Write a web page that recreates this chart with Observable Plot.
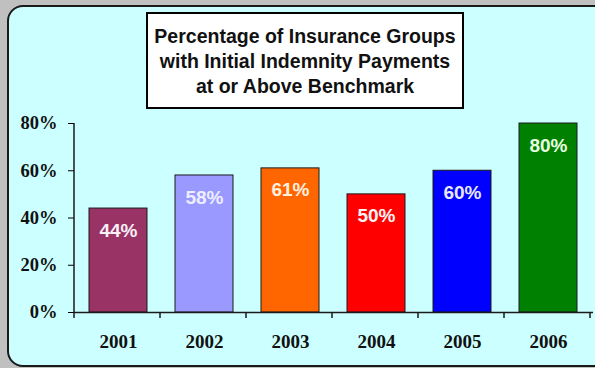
<!DOCTYPE html>
<html>
<head>
<meta charset="utf-8">
<script src="https://cdn.jsdelivr.net/npm/d3@7"></script>
<script src="https://cdn.jsdelivr.net/npm/@observablehq/plot@0.6"></script>
<style>
  html, body { margin: 0; padding: 0; background: #c0c0c0; }
  #wrap { position: relative; width: 595px; height: 368px; overflow: hidden; background: #c0c0c0; }
  #panel { position: absolute; left: 7px; top: 5px; width: 620px; height: 358px; border: 2px solid #1a1a1a; border-radius: 16px; background: #ccffff; }
  #chart { position: absolute; left: 0; top: 0; }
  #title { position: absolute; left: 146px; top: 12px; width: 314px; height: 83.5px; padding-top: 9.5px; border: 2px solid #000; background: #fff;
           font: bold 19.5px "Liberation Sans", Arial, sans-serif; text-align: center; line-height: 25px; color: #111; }
  #chart svg g[aria-label^="x-axis"] text { font-family: "Liberation Serif", "Times New Roman", serif; font-weight: bold; font-size: 19px; fill: #111; }
  #chart svg g[aria-label^="y-axis"] text { font-family: "Liberation Serif", "Times New Roman", serif; font-weight: bold; font-size: 18.5px; fill: #111; }
</style>
</head>
<body>
<div id="wrap">
  <div id="panel"></div>
  <div id="chart"></div>
  <div id="title">Percentage of Insurance Groups<br>with Initial Indemnity Payments<br>at or Above Benchmark</div>
</div>
<script>
const years = ["2001", "2002", "2003", "2004", "2005", "2006"];
const values = [44, 58, 61, 50, 60, 80];
const barColors = ["#993366", "#9999ff", "#ff6600", "#ff0000", "#0000ff", "#008000"];
const labelColors = ["#f8f0f6", "#eeeeff", "#fff0e0", "#fff4f4", "#e8e8ff", "#e8ffe0"];
const yTicks = [0, 20, 40, 60, 80];

const data = years.map((year, i) => ({year, value: values[i], color: barColors[i], labelColor: labelColors[i]}));

function axisFrame(index, scales, values, dims) {
  const x = scales.x, y = scales.y;
  const xs = years.map(d => x(d));
  const step = xs[1] - xs[0];
  const y0 = y(0), yTop = y(80);
  const g = d3.create("svg:g").attr("stroke", "#1a1a1a").attr("stroke-width", 1.5);
  for (let i = 0; i <= years.length; i++) {
    const bx = dims.marginLeft + i * step;
    g.append("line").attr("x1", bx).attr("x2", bx).attr("y1", y0).attr("y2", y0 + 6);
  }
  g.append("line").attr("x1", dims.marginLeft).attr("x2", dims.marginLeft).attr("y1", yTop).attr("y2", y0);
  return g.node();
}

const chart = Plot.plot({
  width: 595,
  height: 368,
  marginLeft: 74,
  marginRight: 2,
  marginTop: 123,
  marginBottom: 56,
  style: { background: "transparent", overflow: "visible" },
  x: { domain: years, paddingInner: 0.32, paddingOuter: 0.16, tickSize: 0, tickPadding: 22, label: null },
  y: { domain: [0, 80], ticks: yTicks, tickFormat: d => d + "%", tickSize: 6, tickPadding: 11, label: null },
  color: { type: "identity" },
  marks: [
    Plot.barY(data, { x: "year", y: "value", fill: "color", stroke: "#1a1a1a", strokeWidth: 1 }),
    Plot.text(data, { x: "year", y: "value", text: d => d.value + "%", dy: 22, fill: "labelColor",
      fontSize: 19, fontWeight: "bold", fontFamily: "Liberation Sans, Arial, sans-serif" }),
    Plot.ruleY([0], { stroke: "#1a1a1a", strokeWidth: 1.5 }),
    axisFrame
  ]
});
document.getElementById("chart").appendChild(chart);
</script>
</body>
</html>
